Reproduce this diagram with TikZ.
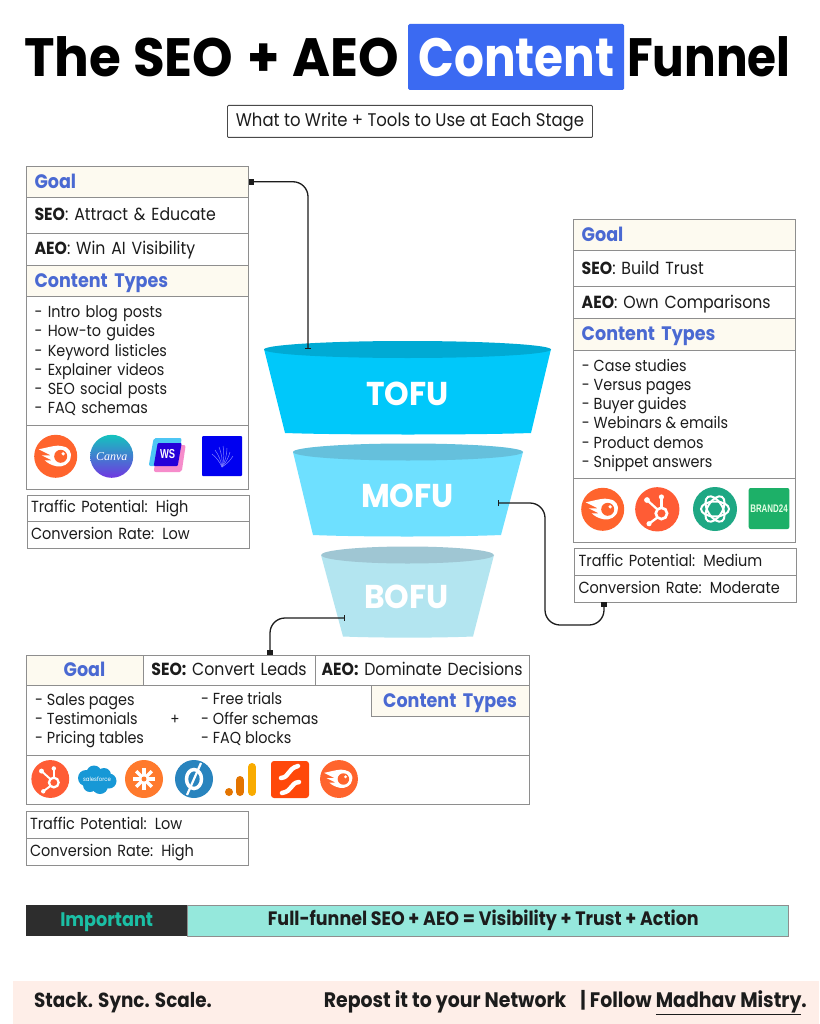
\documentclass[tikz,border=0pt]{standalone}
\usepackage{fontspec}
\setmainfont[FakeStretch=0.9]{Poppins}
\newfontfamily\titlefont[FakeStretch=0.87]{Poppins}
\newfontfamily\titlewide[FakeStretch=0.955]{Poppins}
\newfontfamily\fnfont[FakeStretch=0.95]{Poppins}
\newfontfamily\serifit{Liberation Serif}
\newfontfamily\narrowfont[FakeStretch=0.72]{Liberation Sans}
\usetikzlibrary{arrows.meta}
\definecolor{gold}{HTML}{FDFAF0}
\definecolor{ink}{HTML}{1C1C1C}
\definecolor{edge}{HTML}{8E8E8E}
\definecolor{headblue}{HTML}{4A69D2}
\definecolor{titleblue}{HTML}{3B6AF2}
\definecolor{semrush}{HTML}{FF642D}
\definecolor{hubspot}{HTML}{FF5C35}
\tikzset{
 x=1pt,y=-1pt,
 cellbox/.style={draw=edge,line width=0.9pt,anchor=north west,inner xsep=8pt,inner ysep=0pt,outer sep=0pt,align=left,text=ink,font=\fontsize{16}{19.2}\selectfont},
 seocell/.style={font=\fontsize{17.5}{20}\selectfont,text height=14pt,text depth=3pt},
 headcell/.style={fill=gold,text=headblue,font=\fontsize{19.5}{22}\selectfont\bfseries,text height=16pt,text depth=3pt},
 metric/.style={font=\fontsize{16.1}{19}\selectfont,text height=13pt,text depth=4pt},
 listtext/.style={anchor=north west,inner sep=0pt,align=left,text=ink,font=\fontsize{16}{19.2}\selectfont},
 wire/.style={draw=ink,line width=1.3pt,rounded corners=15pt},
 titletext/.style={inner sep=0pt,font=\titlefont\fontsize{54}{56}\selectfont\bfseries},
 titlewidetext/.style={inner sep=0pt,font=\titlewide\fontsize{54}{56}\selectfont\bfseries},
 funneltext/.style={text=white,font=\fnfont\fontsize{33}{36}\selectfont\bfseries}
}
\newcommand{\cell}[7][]{%
 \pgfmathsetmacro\cw{#5-#3}\pgfmathsetmacro\ch{#6-#4}%
 \node[cellbox,minimum width=\cw pt,minimum height=\ch pt,text width=\cw pt-16pt,#1] (#2) at (#3,#4) {#7};}
\newcommand{\mt}{\hspace*{-4pt}}
\newcommand{\icSemrush}[3]{\begin{scope}[shift={(#1,#2)},scale=#3]
 \fill[semrush] (0,0) circle (21.5);
 \fill[white] (-17,-7) .. controls (-7,-9) and (2,-12) .. (7,-10) .. controls (14,-9) and (16,-3) .. (15,1) .. controls (14,8) and (7,11) .. (1,10) .. controls (-4,9) and (-8,7) .. (-11,4) -- (-4,4) -- (-14,-1) -- (-5,-1) -- cycle;
 \fill[semrush] (5,0) circle (6.5);
 \fill[white] (7.5,-2.5) circle (1.8);
 \end{scope}}
\newcommand{\icHub}[3]{\begin{scope}[shift={(#1,#2)},scale=#3]
 \fill[hubspot] (0,0) circle (21.5);
 \draw[white,line width=#3*2.6pt] (4,4) circle (5.5);
 \draw[white,line width=#3*2.2pt] (4,-2) -- (4,-12);
 \draw[white,line width=#3*2.2pt] (0,0) -- (-10,-9);
 \draw[white,line width=#3*2.2pt] (0,8) -- (-8,14);
 \fill[white] (4,-12) circle (2.5) (-10,-9) circle (2.8) (-8,14) circle (2.5);
 \end{scope}}
\begin{document}
\begin{tikzpicture}
\useasboundingbox (0,0) rectangle (819,1024);
\fill[white] (0,0) rectangle (819,1024);

% Title
\fill[titleblue,rounded corners=1.5pt] (408,24) rectangle (624,90);
\node[titlewidetext,anchor=base west,text=black] (t1) at (24,76.5) {The\hspace{1pt} SEO\hspace{3pt} +\hspace{2pt} AEO};
\node[titletext,anchor=base,text=white] (t2) at (516.5,76.5) {Content};
\node[titletext,anchor=base west,text=black] (t3) at (627,76.5) {Funnel};
\node[draw=ink!80,line width=0.9pt,rounded corners=1pt,inner sep=0pt,minimum width=365pt,minimum height=32pt,anchor=north west,text=ink,font=\fontsize{18.3}{20}\selectfont,text height=14pt,text depth=4pt] (sub) at (227,105) {What to Write + Tools to Use at Each Stage};

% Funnels
\fill[fill={rgb,255:red,0;green,200;blue,250}] (264,349) -- (285,433) .. controls (340,435) and (476,435) .. (531,433) -- (551,349) -- cycle;
\fill[fill={rgb,255:red,0;green,170;blue,212}] (407.5,349.5) ellipse (143.5 and 8.5);
\fill[fill={rgb,255:red,110;green,224;blue,255}] (293,452) -- (313,535) .. controls (360,537) and (454,537) .. (501,535) -- (523,452) -- cycle;
\fill[fill={rgb,255:red,101;green,192;blue,220}] (408,452) ellipse (115 and 8.5);
\fill[fill={rgb,255:red,179;green,229;blue,240}] (321,555) -- (343,636.5) .. controls (380,638) and (436,638) .. (473,636.5) -- (494,555) -- cycle;
\fill[fill={rgb,255:red,159;green,198;blue,211}] (407.5,555) ellipse (86.5 and 8.5);
\node[funneltext] (tofu) at (407.5,394) {TOFU};
\node[funneltext] (mofu) at (407.5,495.5) {MOFU};
\node[funneltext] (bofu) at (406.5,597) {BOFU};

% Left panel
\cell[headcell]{lg}{26.5}{166.5}{248.5}{197}{Goal}
\cell[seocell]{ls}{26.5}{197}{248.5}{233}{\textbf{SEO}: Attract \& Educate}
\cell[seocell]{la}{26.5}{233}{248.5}{265}{\textbf{AEO}: Win AI Visibility}
\cell[headcell]{lc}{26.5}{265}{248.5}{296.5}{Content Types}
\cell{ll}{26.5}{296.5}{248.5}{425}{- Intro blog posts\\- How-to guides\\- Keyword listicles\\- Explainer videos\\- SEO social posts\\- FAQ schemas}
\cell{li}{26.5}{425}{248.5}{489.5}{}
\cell[metric]{lm1}{27}{495}{249.5}{521.5}{\mt Traffic Potential: High}
\cell[metric]{lm2}{27}{521.5}{249.5}{548.5}{\mt Conversion Rate: Low}

\icSemrush{55.7}{456.3}{1}
\shade[top color={rgb,255:red,20;green,195;blue,190},bottom color={rgb,255:red,112;green,55;blue,225}] (111.7,456.3) circle (21.5);
\node[text=white,inner sep=0pt,font=\serifit\fontsize{12}{13}\selectfont\itshape] (canva) at (111.7,456.5) {Canva};
\begin{scope}[shift={(167.7,456)}]
 \fill[cyan!70!white,rounded corners=2pt] (-14,-18) -- (14,-18) -- (10,10) -- (-19,10) -- cycle;
 \fill[magenta!45!white,rounded corners=2pt] (-10,-11) -- (18,-11) -- (14,16) -- (-14,16) -- cycle;
 \fill[blue!70!violet,rounded corners=1pt] (-10,-13) -- (14,-13) -- (10,10) -- (-14,10) -- cycle;
 \node[text=white,inner sep=0pt,font=\narrowfont\fontsize{13}{13}\selectfont\bfseries] (ws) at (0,-1.5) {WS};
\end{scope}
\fill[fill={rgb,255:red,0;green,0;blue,240},rounded corners=1pt] (202,436) rectangle (242,476);
\foreach \dx/\dy in {-10/-13,-7/-17,-3/-20,1/-21,5/-19,8/-15,11/-11}{\draw[draw={rgb,255:red,130;green,130;blue,255},line width=0.5pt] (222,467) to[bend right=12] ++(\dx,\dy);}

% Right panel
\cell[headcell]{rg}{573.7}{219.5}{795.7}{250.5}{Goal}
\cell[seocell]{rs}{573.7}{250.5}{795.7}{286.5}{\textbf{SEO}: Build Trust}
\cell[seocell]{ra}{573.7}{286.5}{795.7}{318.5}{\textbf{AEO}: Own Comparisons}
\cell[headcell]{rc}{573.7}{318.5}{795.7}{350}{Content Types}
\cell{rlbox}{573.7}{350}{795.7}{478}{}
\node[listtext] (rl) at (581.7,359) {- Case studies\\- Versus pages\\- Buyer guides\\- Webinars \& emails\\- Product demos\\- Snippet answers};
\cell{ri}{573.7}{478}{795.7}{542.5}{}
\cell[metric]{rm1}{574.5}{548.5}{796.5}{575}{\mt Traffic Potential: Medium}
\cell[metric]{rm2}{574.5}{575}{796.5}{602}{\mt Conversion Rate: Moderate}

\icSemrush{602.7}{509.3}{1}
\icHub{657.3}{509.3}{1.03}
\fill[fill={rgb,255:red,30;green,168;blue,132}] (715,509) circle (22);
\foreach \a in {0,60,120}{\draw[white,line width=2pt,rotate around={\a:(715,509)}] (715,509) ellipse (14 and 7.5);}
\fill[fill={rgb,255:red,29;green,176;blue,104},rounded corners=2pt] (748.7,488) rectangle (789.3,529);
\node[text=white!90!green,inner sep=0pt,font=\narrowfont\fontsize{11}{12}\selectfont\bfseries] (brand) at (769,509) {BRAND24};

% Bottom panel
\draw[draw=edge,line width=0.9pt] (26,655) rectangle (529,804);
\cell[headcell,align=center]{bg}{26}{655}{143}{685}{Goal}
\cell[seocell,align=center,inner xsep=0pt,text width=\cw pt]{bs}{143}{655}{315}{685}{\textbf{SEO:} Convert Leads}
\cell[seocell,align=center,inner xsep=0pt,text width=\cw pt]{ba}{315}{655}{529}{685}{\textbf{AEO:} Dominate Decisions}
\cell[headcell,align=center]{bc}{371}{685}{529}{716}{Content Types}
\node[listtext] (bl1) at (35,693.5) {- Sales pages\\- Testimonials\\- Pricing tables};
\node[listtext] (bl2) at (201,692.5) {- Free trials\\- Offer schemas\\- FAQ blocks};
\node[inner sep=0pt,text=ink,font=\fontsize{15}{16}\selectfont] (plus) at (175,720) {+};
\draw[draw=edge,line width=0.9pt] (26,755) -- (529,755);
\cell[metric]{bm1}{26}{811}{248}{838}{\mt Traffic Potential: Low}
\cell[metric]{bm2}{26}{838}{248}{865}{\mt Conversion Rate: High}

\icHub{50.3}{779}{0.88}
\begin{scope}[shift={(97,780)}]
 \fill[fill={rgb,255:red,23;green,152;blue,214}] (-11,-2) circle (8) (-3,-7) circle (7.5) (7,-5) circle (7) (12,1) circle (7.5) (3,6) circle (8) (-7,5) circle (7);
 \node[text=white,inner sep=0pt,font=\fontsize{6}{6}\selectfont] (sf) at (0,-0.5) {salesforce};
\end{scope}
\fill[fill={rgb,255:red,255;green,122;blue,45}] (144,779) circle (19);
\foreach \a in {0,45,90,135}{\draw[white,line width=3.4pt,rotate around={\a:(144,779)}] (133,779) -- (155,779);}
\fill[fill={rgb,255:red,255;green,122;blue,45}] (144,779) circle (2.5);
\fill[fill={rgb,255:red,41;green,132;blue,190}] (194,779) circle (19);
\draw[white,line width=3.5pt] (194,779) ellipse (7.5 and 9.5);
\draw[white,line width=2.2pt] (201,763) -- (187,795);
\fill[fill={rgb,255:red,227;green,116;blue,0}] (229,792) circle (4);
\draw[line width=8pt,line cap=round,draw={rgb,255:red,227;green,116;blue,0}] (240,780) -- (240,792);
\draw[line width=8pt,line cap=round,draw={rgb,255:red,249;green,171;blue,0}] (252,767) -- (252,792);
\fill[fill={rgb,255:red,255;green,72;blue,10},rounded corners=3pt] (271,761) rectangle (309,798);
\draw[white,line width=4.5pt,line cap=round] (281,778) .. controls (290,777) and (287,769) .. (298,766);
\draw[white,line width=4.5pt,line cap=round] (299,782) .. controls (290,783) and (293,791) .. (282,793);
\icSemrush{339}{779}{0.88}

% Connectors
\coordinate (tofuPort) at (308,349);
\coordinate (mofuPort) at (498,503);
\coordinate (mofuBend) at (545,625);
\coordinate (bofuPort) at (345,618);
\coordinate (bofuLand) at (270,655);
\coordinate (mofuLand) at (604,602);
\draw[wire,{Square[length=5pt,width=6pt]}-{Bar[width=6pt,length=1pt]}] (lg.east) -| (tofuPort);
\draw[wire,{Bar[width=6pt,length=1pt]}-{Square[length=5pt,width=6pt]}] (mofuPort) -| (mofuBend) -| (mofuLand);
\draw[wire,{Bar[width=6pt,length=1pt]}-{Square[length=5pt,width=6pt]}] (bofuPort) -| (bofuLand);

% Important
\node[draw=edge,line width=0.6pt,fill={rgb,255:red,149;green,232;blue,220},minimum width=601pt,minimum height=31pt,anchor=north west,inner sep=0pt,text=ink,font=\fontsize{19.4}{22}\selectfont\bfseries,text height=14pt,text depth=4pt] (full) at (187,905) {\hspace*{-9pt}Full-funnel SEO + AEO = Visibility + Trust + Action};
\node[fill={rgb,255:red,45;green,45;blue,45},minimum width=161pt,minimum height=31pt,anchor=north west,inner sep=0pt,text={rgb,255:red,27;green,191;blue,165},font=\fontsize{19.6}{22}\selectfont\bfseries,text height=15pt,text depth=3pt] (imp) at (26,905) {Important};

% Footer
\fill[fill={rgb,255:red,254;green,238;blue,232}] (13,981) rectangle (819,1024);
\node[anchor=base west,inner sep=0pt,text=ink,font=\fontsize{20.4}{22}\selectfont\bfseries] (stack) at (34,1007) {Stack. Sync. Scale.};
\node[anchor=base east,inner sep=0pt,text=ink,font=\fontsize{21}{22}\selectfont\bfseries] (repost) at (807,1007) {Repost it to your Network\hspace{10pt} | Follow \underline{Madhav Mistry}.};
\end{tikzpicture}
\end{document}
